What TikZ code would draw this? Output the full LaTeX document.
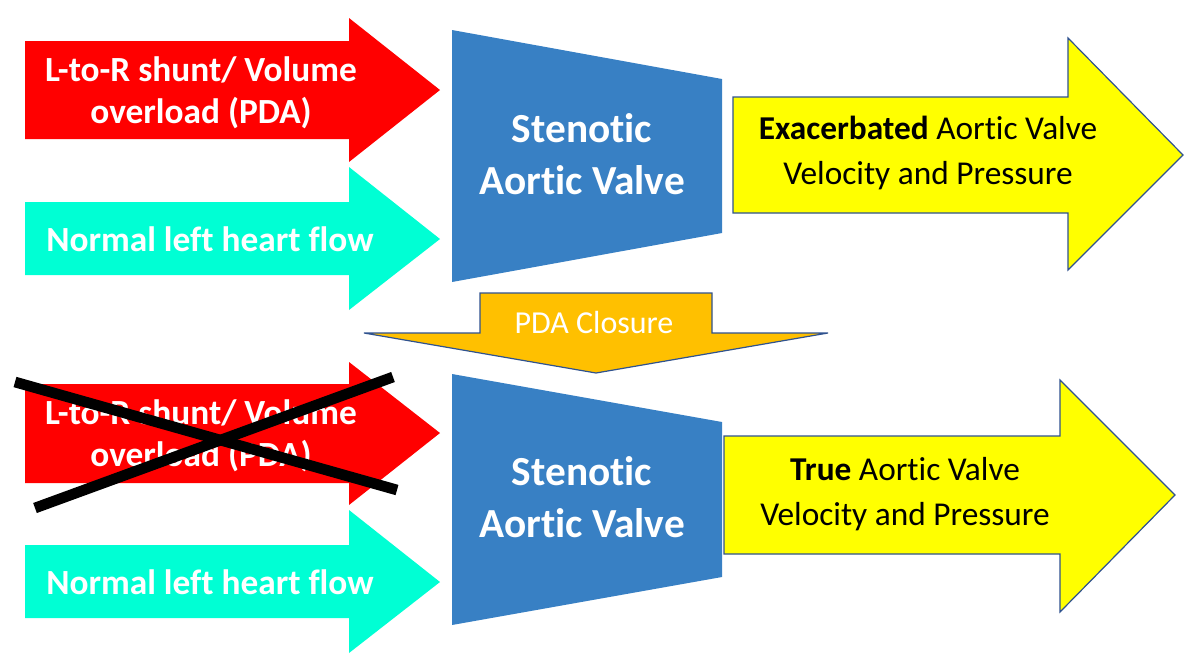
\documentclass[tikz,border=0pt]{standalone}
\usepackage{fontspec}
\setmainfont{Carlito}[Ligatures=NoCommon]
\definecolor{shuntred}{RGB}{255,0,0}
\definecolor{flowcyan}{RGB}{0,255,212}
\definecolor{valveblue}{RGB}{56,128,196}
\definecolor{outyellow}{RGB}{255,255,0}
\definecolor{closeorange}{RGB}{255,192,0}
\definecolor{edgeblue}{RGB}{47,82,143}

\begin{document}
\begin{tikzpicture}[x=0.75pt,y=0.75pt,yscale=-1,xscale=1,
  shuntarrow/.style={fill=shuntred},
  flowarrow/.style={fill=flowcyan},
  valve/.style={fill=valveblue},
  outarrow/.style={fill=outyellow, draw=edgeblue, line width=0.9pt, line join=miter},
  closearrow/.style={fill=closeorange, draw=edgeblue, line width=0.9pt, line join=miter},
  inlbl/.style={text=white, align=center, font=\fontsize{26.5}{31.5}\selectfont\bfseries},
  valvelbl/.style={text=white, align=center, font=\fontsize{31}{39}\selectfont\bfseries},
  outlbl/.style={text=black, align=center, font=\fontsize{25}{34}\selectfont},
  closelbl/.style={text=white, align=center, font=\fontsize{24}{28}\selectfont},
  strike/.style={draw=black, line width=8pt},
]
  \useasboundingbox (0,0) rectangle (1200,662);

  \fill[shuntarrow] (25,41) -- (349,41) -- (349,18) -- (440,90) -- (349,162) -- (349,139) -- (25,139) -- cycle;
  \fill[flowarrow] (25,202) -- (349,202) -- (349,167) -- (440,239) -- (349,310) -- (349,275) -- (25,275) -- cycle;
  \fill[valve] (452,30) -- (722,79) -- (722,233) -- (452,282) -- cycle;
  \filldraw[outarrow] (733,97) -- (1068,97) -- (1068,38) -- (1183,155) -- (1068,270) -- (1068,213) -- (733,213) -- cycle;

  \filldraw[closearrow] (480,293) -- (712,293) -- (712,333) -- (828,333) -- (596,373) -- (364,333) -- (480,333) -- cycle;

  \fill[shuntarrow] (25,384) -- (349,384) -- (349,362) -- (440,433) -- (349,505) -- (349,483) -- (25,483) -- cycle;
  \fill[flowarrow] (25,545) -- (349,545) -- (349,510) -- (440,582) -- (349,653) -- (349,618) -- (25,618) -- cycle;
  \fill[valve] (452,374) -- (722,422) -- (722,577) -- (452,625) -- cycle;
  \filldraw[outarrow] (724,436) -- (1060,436) -- (1060,380) -- (1175,495) -- (1060,612) -- (1060,554) -- (724,554) -- cycle;

  \node[inlbl] (shunttop) at (201,93) {L-to-R shunt/ Volume\\overload (PDA)};
  \node[inlbl] (flowtop) at (210,239) {Normal left heart flow};
  \node[valvelbl] (valvetop) at (582,154) {Stenotic\\Aortic Valve};
  \node[outlbl] (outtop) at (928,153) {\textbf{Exacerbated} Aortic Valve\\Velocity and Pressure};

  \node[closelbl] (closure) at (594,322) {PDA Closure};

  \node[inlbl] (shuntbot) at (201,436) {L-to-R shunt/ Volume\\overload (PDA)};
  \node[inlbl] (flowbot) at (210,582) {Normal left heart flow};
  \node[valvelbl] (valvebot) at (582,497) {Stenotic\\Aortic Valve};
  \node[outlbl] (outbot) at (905,494) {\textbf{True} Aortic Valve\\Velocity and Pressure};

  \draw[strike] (15,382) -- (397,490);
  \draw[strike] (35,508) -- (393,377);
\end{tikzpicture}
\end{document}
